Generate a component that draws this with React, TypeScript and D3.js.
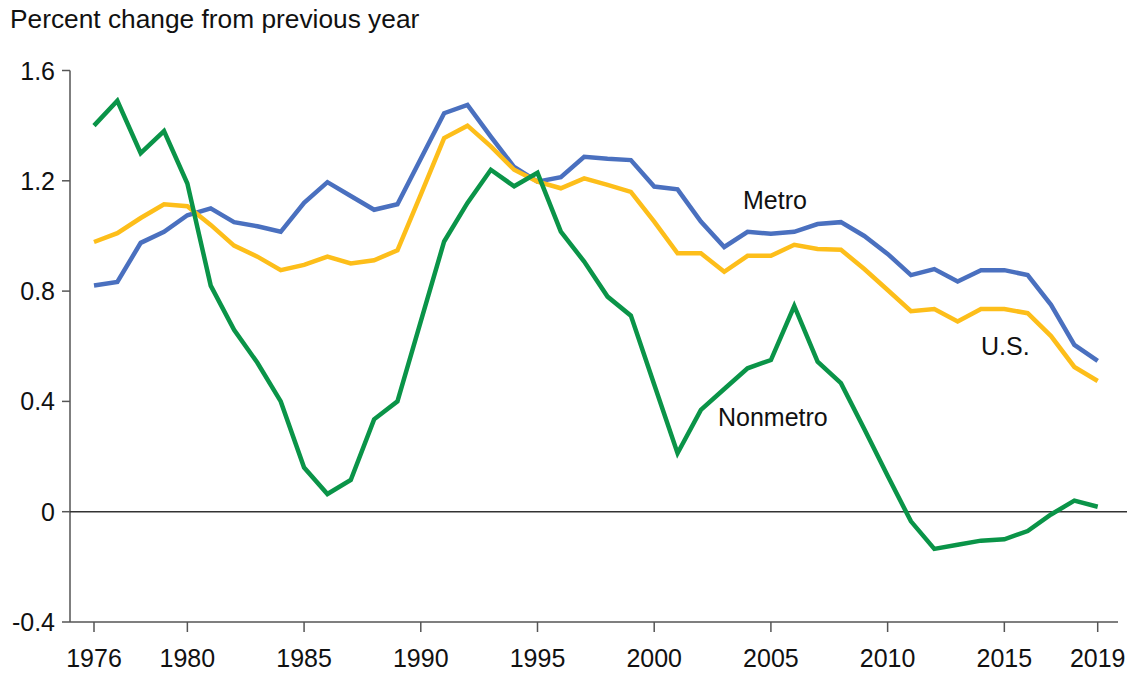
import React from "react";
import * as d3 from "d3";

const years: number[] = d3.range(1976, 2020);

const metro: number[] = [
  0.82, 0.833, 0.975, 1.015, 1.075, 1.1, 1.05, 1.035, 1.015, 1.12,
  1.195, 1.145, 1.095, 1.115, 1.28, 1.445, 1.475, 1.36, 1.25, 1.197,
  1.213, 1.287, 1.28, 1.275, 1.179, 1.169, 1.052, 0.96, 1.015, 1.008,
  1.015, 1.043, 1.05, 1.0, 0.935, 0.858, 0.88, 0.835, 0.876, 0.876,
  0.858, 0.75, 0.605, 0.547,
];

const us: number[] = [
  0.978, 1.01, 1.065, 1.115, 1.108, 1.04, 0.965, 0.925, 0.876, 0.895,
  0.925, 0.9, 0.912, 0.948, 1.15, 1.355, 1.4, 1.325, 1.24, 1.197,
  1.173, 1.209, 1.185, 1.16, 1.052, 0.937, 0.937, 0.87, 0.928, 0.928,
  0.968, 0.953, 0.95, 0.88, 0.804, 0.727, 0.735, 0.69, 0.735, 0.735,
  0.72, 0.637, 0.525, 0.474,
];

const nonmetro: number[] = [
  1.4, 1.49, 1.3, 1.38, 1.19, 0.82, 0.66, 0.54, 0.4, 0.16,
  0.064, 0.115, 0.335, 0.4, 0.69, 0.98, 1.12, 1.24, 1.18, 1.229,
  1.016, 0.907, 0.78, 0.711, 0.461, 0.212, 0.369, 0.445, 0.52, 0.55,
  0.746, 0.544, 0.466, 0.3, 0.13, -0.035, -0.135, -0.12, -0.105, -0.1,
  -0.07, -0.01, 0.04, 0.018,
];

const yTicks: number[] = [-0.4, 0, 0.4, 0.8, 1.2, 1.6];
const yTickLabels: string[] = ["-0.4", "0", "0.4", "0.8", "1.2", "1.6"];
const xTicks: number[] = [1976, 1980, 1985, 1990, 1995, 2000, 2005, 2010, 2015, 2019];

const title = "Percent change from previous year";

const seriesList = [
  { name: "Metro", values: metro, color: "#4a70bf", label: { x: 743, y: 209 } },
  { name: "U.S.", values: us, color: "#fdbe1a", label: { x: 981, y: 355 } },
  { name: "Nonmetro", values: nonmetro, color: "#0a9448", label: { x: 718, y: 426 } },
];

const W = 1130;
const H = 675;
const font = "'Liberation Sans', Arial, Helvetica, sans-serif";

export default function App() {
  const x = d3.scaleLinear().domain([1976, 2019]).range([94, 1097.7]);
  const y = d3.scaleLinear().domain([-0.4, 1.6]).range([622, 70.5]);
  const line = d3
    .line<number>()
    .x((_, i) => x(years[i]))
    .y((d) => y(d));

  const axisLeft = 70;
  const axisBottom = y(-0.4);
  const axisRight = 1118;

  return (
    <svg
      width={W}
      height={H}
      style={{ position: "absolute", left: 0, top: 0, background: "#fff" }}
      fontFamily={font}
    >
      <rect x={0} y={0} width={W} height={H} fill="#fff" />
      <text x={10} y={27.5} fontSize={26.3} fill="#111">
        {title}
      </text>

      {/* y axis */}
      <line x1={axisLeft} x2={axisLeft} y1={y(1.6)} y2={axisBottom} stroke="#555" strokeWidth={1.5} />
      {yTicks.map((t, i) => (
        <g key={"y" + t}>
          <line x1={axisLeft - 8} x2={axisLeft} y1={y(t)} y2={y(t)} stroke="#555" strokeWidth={1.5} />
          <text
            x={55}
            y={y(t)}
            dy="0.36em"
            textAnchor="end"
            fontSize={25}
            fill="#111"
          >
            {yTickLabels[i]}
          </text>
        </g>
      ))}

      {/* x axis */}
      <line x1={axisLeft} x2={axisRight} y1={axisBottom} y2={axisBottom} stroke="#555" strokeWidth={1.5} />
      {xTicks.map((t) => (
        <g key={"x" + t}>
          <line x1={x(t)} x2={x(t)} y1={axisBottom} y2={axisBottom + 10} stroke="#555" strokeWidth={1.5} />
          <text x={x(t)} y={667} textAnchor="middle" fontSize={25} fill="#111">
            {t}
          </text>
        </g>
      ))}

      {/* zero line */}
      <line x1={axisLeft} x2={1127} y1={y(0)} y2={y(0)} stroke="#333" strokeWidth={1.6} />

      {seriesList.map((s) => (
        <path
          key={s.name}
          d={line(s.values) || ""}
          fill="none"
          stroke={s.color}
          strokeWidth={4.5}
          strokeLinejoin="miter"
          strokeLinecap="butt"
        />
      ))}

      {seriesList.map((s) => (
        <text key={"l" + s.name} x={s.label.x} y={s.label.y} fontSize={25} fill="#111">
          {s.name}
        </text>
      ))}
    </svg>
  );
}
